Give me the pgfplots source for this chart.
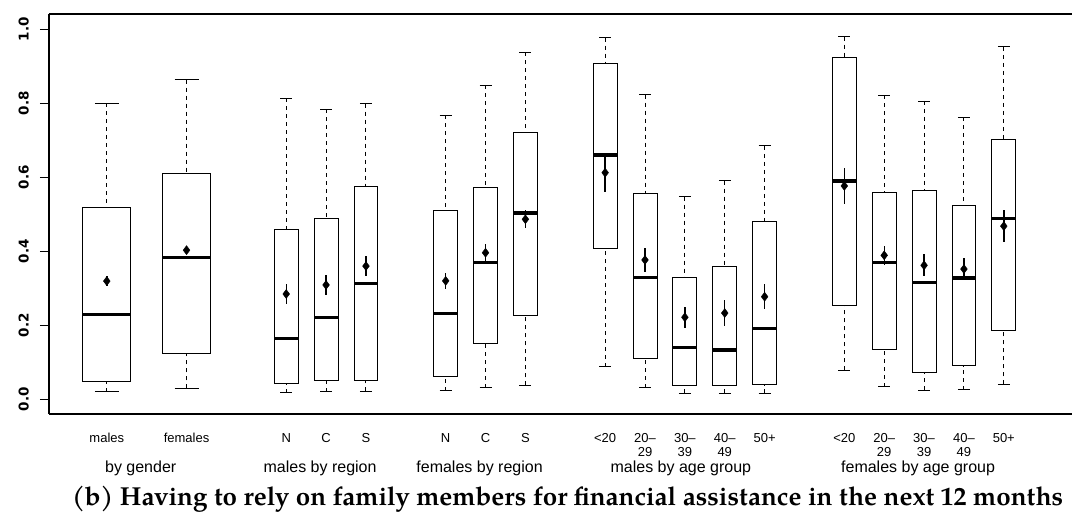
\documentclass[border=0pt]{standalone}
\usepackage{pgfplots}
\pgfplotsset{compat=1.18}
\usepgfplotslibrary{statistics}
\usepackage{fontspec}
\setmainfont{Liberation Sans}
\newfontfamily\tickfont{DejaVu Sans}
\newfontfamily\titlefont{texgyrepagella}[Extension=.otf, UprightFont=*-regular, BoldFont=*-bold]

% whiskers: dashed stem, solid cap
\pgfplotsset{
  boxplot/draw/lower whisker/.code={%
    \draw[black, line width=0.9pt, dash pattern=on 4pt off 4pt]
      (boxplot box cs:\pgfplotsboxplotvalue{lower whisker},0.5) --
      (boxplot box cs:\pgfplotsboxplotvalue{lower quartile},0.5);
    \draw[black, line width=0.9pt]
      (boxplot whisker cs:\pgfplotsboxplotvalue{lower whisker},0) --
      (boxplot whisker cs:\pgfplotsboxplotvalue{lower whisker},1);
  },
  boxplot/draw/upper whisker/.code={%
    \draw[black, line width=0.9pt, dash pattern=on 4pt off 4pt]
      (boxplot box cs:\pgfplotsboxplotvalue{upper whisker},0.5) --
      (boxplot box cs:\pgfplotsboxplotvalue{upper quartile},0.5);
    \draw[black, line width=0.9pt]
      (boxplot whisker cs:\pgfplotsboxplotvalue{upper whisker},0) --
      (boxplot whisker cs:\pgfplotsboxplotvalue{upper whisker},1);
  },
}

% position, box width, lower whisker, Q1, median, Q3, upper whisker
\newcommand{\bx}[7]{%
  \addplot[black, boxplot prepared={draw direction=y, draw position=#1,
    box extend=#2, whisker extend=#2*0.5, lower whisker=#3,
    lower quartile=#4, median=#5, upper quartile=#6,
    upper whisker=#7}] coordinates {};}

\begin{document}
\begin{tikzpicture}
\path[use as bounding box] (0pt,0pt) rectangle (1072pt,529pt);
\begin{axis}[
  at={(49pt,115.2pt)}, anchor=south west,
  scale only axis, width=1023pt, height=399.8pt,
  xmin=0.05, xmax=25.71, ymin=-0.039, ymax=1.041,
  axis y line*=left, axis x line*=box,
  axis line style={line width=2pt, black},
  tick align=outside, major tick length=9pt,
  ytick={0,0.2,0.4,0.6,0.8,1.0},
  yticklabels={0.0,0.2,0.4,0.6,0.8,1.0},
  ytick style={line width=1pt, black},
  yticklabel style={font=\tickfont\bfseries\fontsize{13.5}{13.5}\selectfont,
    rotate=90, anchor=south, inner ysep=11pt},
  xtick={1.5,3.5,6,7,8,10,11,12,14,15,16,17,18,20,21,22,23,24},
  xticklabels={males,females,N,C,S,N,C,S,{<20},{20–\\29},{30–\\39},{40–\\49},{50+},{<20},{20–\\29},{30–\\39},{40–\\49},{50+}},
  xtick style={draw=none},
  xticklabel style={font=\fontsize{13}{14}\selectfont, align=center,
    anchor=north, yshift=-7pt},
  boxplot/every box/.style={draw=black, line width=0.9pt, fill=white},
  boxplot/every median/.style={line width=3.2pt},
  clip=false,
]
\bx{1.5}{1.2}{0.0205}{0.0495}{0.2297}{0.519}{0.800}
\bx{3.5}{1.2}{0.0297}{0.125}{0.384}{0.610}{0.864}
\bx{6}{0.6}{0.018}{0.043}{0.165}{0.458}{0.814}
\bx{7}{0.6}{0.0205}{0.0503}{0.2205}{0.490}{0.783}
\bx{8}{0.6}{0.0216}{0.051}{0.314}{0.576}{0.799}
\bx{10}{0.6}{0.0232}{0.062}{0.2324}{0.511}{0.7676}
\bx{11}{0.6}{0.0314}{0.151}{0.370}{0.573}{0.849}
\bx{12}{0.6}{0.0378}{0.227}{0.5035}{0.7216}{0.937}
\bx{14}{0.6}{0.088}{0.407}{0.660}{0.907}{0.977}
\bx{15}{0.6}{0.0314}{0.111}{0.330}{0.557}{0.823}
\bx{16}{0.6}{0.0162}{0.0368}{0.1405}{0.3305}{0.5476}
\bx{17}{0.6}{0.0162}{0.0378}{0.1332}{0.3584}{0.591}
\bx{18}{0.6}{0.017}{0.0395}{0.192}{0.481}{0.6846}
\bx{20}{0.6}{0.0784}{0.2549}{0.590}{0.924}{0.980}
\bx{21}{0.6}{0.034}{0.136}{0.370}{0.5595}{0.8216}
\bx{22}{0.6}{0.025}{0.0738}{0.315}{0.565}{0.806}
\bx{23}{0.6}{0.026}{0.091}{0.328}{0.523}{0.762}
\bx{24}{0.6}{0.0405}{0.1865}{0.488}{0.7016}{0.952}
% means with confidence intervals
\addplot[black, only marks, mark=diamond*, mark size=4.5pt,
  error bars/.cd, y dir=both, y explicit,
  error bar style={line width=1.4pt}, error mark=none]
  coordinates {
  (1.5,0.3195) +- (0,0.0135)
  (3.5,0.403) +- (0,0.008)
  (6,0.2846) +- (0,0.0265)
  (7,0.309) +- (0,0.027)
  (8,0.360) +- (0,0.027)
  (10,0.320) +- (0,0.0225)
  (11,0.396) +- (0,0.0235)
  (12,0.4865) +- (0,0.0245)
  (14,0.6124) +- (0,0.0515)
  (15,0.3765) +- (0,0.0335)
  (16,0.2216) +- (0,0.029)
  (17,0.2332) +- (0,0.034)
  (18,0.2773) +- (0,0.033)
  (20,0.5765) +- (0,0.0495)
  (21,0.389) +- (0,0.0265)
  (22,0.362) +- (0,0.030)
  (23,0.352) +- (0,0.030)
  (24,0.468) +- (0,0.0425)
  };
% group captions
\path[font=\fontsize{16}{17}\selectfont]
  (axis cs:2.35,-0.1857) node {by gender}
  (axis cs:6.85,-0.1857) node {males by region}
  (axis cs:10.85,-0.1857) node {females by region}
  (axis cs:15.9,-0.1857) node {males by age group}
  (axis cs:21.85,-0.1857) node {females by age group};
\node[anchor=base, font=\titlefont\bfseries\fontsize{26}{28}\selectfont]
  at (axis cs:13.06,-0.288)
  {(b) Having to rely on family members for financial assistance in the next 12 months};
\end{axis}
\end{tikzpicture}
\end{document}
